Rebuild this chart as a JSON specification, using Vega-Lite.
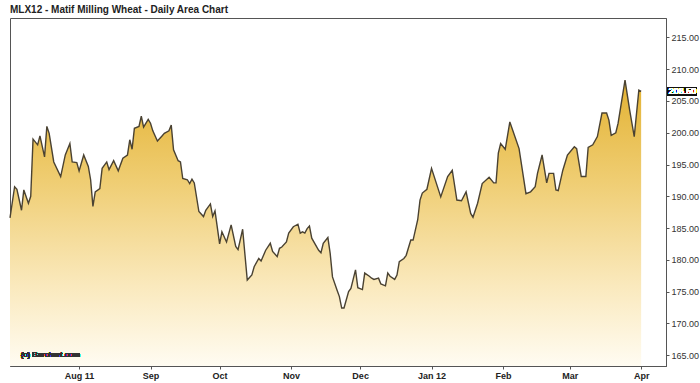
{
  "$schema": "https://vega.github.io/schema/vega-lite/v6.json",
  "width": 656,
  "height": 348,
  "autosize": {"type": "none"},
  "padding": {"left": 10, "top": 18, "right": 34, "bottom": 17},
  "background": "white",
  "title": {"text": "MLX12 - Matif Milling Wheat - Daily Area Chart", "anchor": "start", "frame": "group", "font": "Liberation Sans", "fontSize": 10, "fontWeight": "bold", "color": "#222222", "offset": 3},
  "config": {"view": {"stroke": "#555555", "strokeWidth": 1}, "font": "Liberation Sans"},
  "resolve": {"axis": {"x": "independent", "y": "independent"}},
  "data": {"values": [
    {"date": "2011-07-02", "price": 186.6},
    {"date": "2011-07-04", "price": 191.5},
    {"date": "2011-07-05", "price": 191.1},
    {"date": "2011-07-07", "price": 187.8},
    {"date": "2011-07-08", "price": 191.0},
    {"date": "2011-07-10", "price": 188.9},
    {"date": "2011-07-11", "price": 190.0},
    {"date": "2011-07-12", "price": 199.0},
    {"date": "2011-07-14", "price": 198.1},
    {"date": "2011-07-15", "price": 199.5},
    {"date": "2011-07-17", "price": 196.2},
    {"date": "2011-07-18", "price": 201.0},
    {"date": "2011-07-19", "price": 199.9},
    {"date": "2011-07-21", "price": 195.4},
    {"date": "2011-07-24", "price": 193.1},
    {"date": "2011-07-26", "price": 196.5},
    {"date": "2011-07-28", "price": 198.3},
    {"date": "2011-07-29", "price": 195.4},
    {"date": "2011-07-31", "price": 195.3},
    {"date": "2011-08-01", "price": 194.0},
    {"date": "2011-08-03", "price": 196.5},
    {"date": "2011-08-05", "price": 194.7},
    {"date": "2011-08-06", "price": 192.6},
    {"date": "2011-08-07", "price": 188.4},
    {"date": "2011-08-08", "price": 190.7},
    {"date": "2011-08-10", "price": 191.2},
    {"date": "2011-08-11", "price": 194.4},
    {"date": "2011-08-13", "price": 195.4},
    {"date": "2011-08-14", "price": 194.2},
    {"date": "2011-08-15", "price": 194.9},
    {"date": "2011-08-16", "price": 195.6},
    {"date": "2011-08-18", "price": 194.0},
    {"date": "2011-08-20", "price": 196.0},
    {"date": "2011-08-22", "price": 196.5},
    {"date": "2011-08-23", "price": 198.9},
    {"date": "2011-08-24", "price": 197.4},
    {"date": "2011-08-25", "price": 200.7},
    {"date": "2011-08-27", "price": 201.0},
    {"date": "2011-08-28", "price": 202.6},
    {"date": "2011-08-29", "price": 200.9},
    {"date": "2011-08-31", "price": 202.1},
    {"date": "2011-09-01", "price": 201.5},
    {"date": "2011-09-02", "price": 200.3},
    {"date": "2011-09-04", "price": 198.7},
    {"date": "2011-09-06", "price": 199.5},
    {"date": "2011-09-07", "price": 199.9},
    {"date": "2011-09-09", "price": 200.3},
    {"date": "2011-09-10", "price": 201.2},
    {"date": "2011-09-11", "price": 197.3},
    {"date": "2011-09-13", "price": 195.6},
    {"date": "2011-09-14", "price": 195.4},
    {"date": "2011-09-15", "price": 192.8},
    {"date": "2011-09-17", "price": 192.6},
    {"date": "2011-09-18", "price": 192.0},
    {"date": "2011-09-19", "price": 192.7},
    {"date": "2011-09-20", "price": 192.1},
    {"date": "2011-09-22", "price": 187.6},
    {"date": "2011-09-24", "price": 186.8},
    {"date": "2011-09-25", "price": 187.8},
    {"date": "2011-09-27", "price": 188.8},
    {"date": "2011-09-28", "price": 186.8},
    {"date": "2011-09-29", "price": 187.7},
    {"date": "2011-10-01", "price": 182.5},
    {"date": "2011-10-02", "price": 184.4},
    {"date": "2011-10-04", "price": 182.8},
    {"date": "2011-10-06", "price": 185.5},
    {"date": "2011-10-08", "price": 182.1},
    {"date": "2011-10-09", "price": 181.6},
    {"date": "2011-10-11", "price": 184.8},
    {"date": "2011-10-13", "price": 176.8},
    {"date": "2011-10-15", "price": 177.6},
    {"date": "2011-10-16", "price": 178.9},
    {"date": "2011-10-18", "price": 180.2},
    {"date": "2011-10-19", "price": 179.8},
    {"date": "2011-10-21", "price": 181.5},
    {"date": "2011-10-23", "price": 182.6},
    {"date": "2011-10-24", "price": 181.3},
    {"date": "2011-10-26", "price": 180.5},
    {"date": "2011-10-27", "price": 181.8},
    {"date": "2011-10-28", "price": 182.0},
    {"date": "2011-10-30", "price": 182.8},
    {"date": "2011-10-31", "price": 184.2},
    {"date": "2011-11-02", "price": 185.2},
    {"date": "2011-11-04", "price": 185.6},
    {"date": "2011-11-05", "price": 184.2},
    {"date": "2011-11-06", "price": 184.4},
    {"date": "2011-11-07", "price": 184.2},
    {"date": "2011-11-08", "price": 184.9},
    {"date": "2011-11-09", "price": 185.3},
    {"date": "2011-11-10", "price": 183.4},
    {"date": "2011-11-13", "price": 181.5},
    {"date": "2011-11-14", "price": 181.1},
    {"date": "2011-11-15", "price": 182.6},
    {"date": "2011-11-17", "price": 183.5},
    {"date": "2011-11-18", "price": 181.0},
    {"date": "2011-11-19", "price": 177.3},
    {"date": "2011-11-21", "price": 175.2},
    {"date": "2011-11-22", "price": 174.2},
    {"date": "2011-11-23", "price": 172.4},
    {"date": "2011-11-24", "price": 172.4},
    {"date": "2011-11-26", "price": 175.0},
    {"date": "2011-11-27", "price": 175.5},
    {"date": "2011-11-29", "price": 178.4},
    {"date": "2011-11-30", "price": 175.6},
    {"date": "2011-12-02", "price": 175.3},
    {"date": "2011-12-03", "price": 177.9},
    {"date": "2011-12-05", "price": 177.4},
    {"date": "2011-12-06", "price": 177.1},
    {"date": "2011-12-07", "price": 176.9},
    {"date": "2011-12-09", "price": 177.1},
    {"date": "2011-12-10", "price": 176.2},
    {"date": "2011-12-12", "price": 175.9},
    {"date": "2011-12-13", "price": 177.9},
    {"date": "2011-12-14", "price": 177.4},
    {"date": "2011-12-16", "price": 176.9},
    {"date": "2011-12-17", "price": 177.6},
    {"date": "2011-12-18", "price": 179.7},
    {"date": "2011-12-20", "price": 180.2},
    {"date": "2011-12-21", "price": 180.7},
    {"date": "2011-12-23", "price": 183.1},
    {"date": "2011-12-24", "price": 183.1},
    {"date": "2011-12-26", "price": 186.3},
    {"date": "2011-12-27", "price": 189.4},
    {"date": "2011-12-28", "price": 190.5},
    {"date": "2011-12-30", "price": 191.1},
    {"date": "2012-01-01", "price": 194.4},
    {"date": "2012-01-05", "price": 189.9},
    {"date": "2012-01-08", "price": 193.1},
    {"date": "2012-01-10", "price": 194.1},
    {"date": "2012-01-12", "price": 189.4},
    {"date": "2012-01-14", "price": 189.3},
    {"date": "2012-01-16", "price": 190.7},
    {"date": "2012-01-18", "price": 187.3},
    {"date": "2012-01-19", "price": 186.7},
    {"date": "2012-01-21", "price": 188.9},
    {"date": "2012-01-23", "price": 192.0},
    {"date": "2012-01-26", "price": 193.0},
    {"date": "2012-01-28", "price": 192.1},
    {"date": "2012-01-29", "price": 192.1},
    {"date": "2012-01-30", "price": 196.8},
    {"date": "2012-01-31", "price": 198.3},
    {"date": "2012-02-02", "price": 197.4},
    {"date": "2012-02-04", "price": 201.7},
    {"date": "2012-02-08", "price": 197.5},
    {"date": "2012-02-11", "price": 190.4},
    {"date": "2012-02-13", "price": 190.7},
    {"date": "2012-02-15", "price": 191.5},
    {"date": "2012-02-16", "price": 193.6},
    {"date": "2012-02-18", "price": 196.5},
    {"date": "2012-02-20", "price": 192.1},
    {"date": "2012-02-21", "price": 193.6},
    {"date": "2012-02-23", "price": 193.6},
    {"date": "2012-02-24", "price": 191.0},
    {"date": "2012-02-25", "price": 190.9},
    {"date": "2012-02-27", "price": 194.1},
    {"date": "2012-02-29", "price": 196.5},
    {"date": "2012-03-03", "price": 197.8},
    {"date": "2012-03-04", "price": 197.5},
    {"date": "2012-03-06", "price": 193.1},
    {"date": "2012-03-08", "price": 193.1},
    {"date": "2012-03-09", "price": 197.7},
    {"date": "2012-03-11", "price": 198.1},
    {"date": "2012-03-13", "price": 199.4},
    {"date": "2012-03-15", "price": 203.1},
    {"date": "2012-03-17", "price": 203.1},
    {"date": "2012-03-18", "price": 202.0},
    {"date": "2012-03-19", "price": 199.6},
    {"date": "2012-03-21", "price": 200.0},
    {"date": "2012-03-22", "price": 201.5},
    {"date": "2012-03-25", "price": 208.3},
    {"date": "2012-03-27", "price": 203.6},
    {"date": "2012-03-29", "price": 199.4},
    {"date": "2012-03-31", "price": 206.7},
    {"date": "2012-04-01", "price": 206.5}
  ]},
  "encoding": {
    "x": {
      "field": "date", "type": "temporal",
      "scale": {"type": "utc", "domain": [{"year": 2011, "month": 7, "date": 2, "utc": true}, {"year": 2012, "month": 4, "date": 11, "hours": 19, "utc": true}]},
      "axis": null
    },
    "y": {
      "field": "price", "type": "quantitative",
      "scale": {"domain": [163.27, 218.07], "zero": false, "nice": false},
      "axis": null
    }
  },
  "layer": [
    {
      "mark": {
        "type": "area",
        "interpolate": "linear",
        "clip": true,
        "fill": {"gradient": "linear", "x1": 0, "y1": 0, "x2": 0, "y2": 1, "stops": [
          {"offset": 0, "color": "#e3b232"},
          {"offset": 0.35, "color": "#efcd72"},
          {"offset": 0.72, "color": "#fae9bd"},
          {"offset": 1, "color": "#fffcf2"}
        ]},
        "fillOpacity": 1,
        "strokeWidth": 0
      },
      "encoding": {
        "x": {
          "field": "date", "type": "temporal",
          "scale": {"type": "utc", "domain": [{"year": 2011, "month": 7, "date": 2, "utc": true}, {"year": 2012, "month": 4, "date": 11, "hours": 19, "utc": true}]},
          "axis": {
            "title": null, "grid": false, "tickCount": "month",
            "labelExpr": "utcFormat(datum.value, (utcmonth(datum.value)==0 || utcmonth(datum.value)==7) ? '%b %y' : '%b')",
            "labelFont": "Liberation Sans", "labelFontSize": 9, "labelFontWeight": "bold", "labelColor": "#222222",
            "domainColor": "#555555", "tickColor": "#555555", "tickSize": 3, "labelPadding": 2, "labelFlush": false, "labelOverlap": false
          }
        },
        "y": {
          "field": "price", "type": "quantitative",
          "scale": {"domain": [163.27, 218.07], "zero": false, "nice": false},
          "axis": {
            "orient": "right", "title": null, "grid": false, "format": ".2f",
            "values": [165, 170, 175, 180, 185, 190, 195, 200, 205, 210, 215],
            "labelFont": "Liberation Sans", "labelFontSize": 9, "labelColor": "#333333", "labelOverlap": false, "labelBound": false,
            "domainColor": "#555555", "tickColor": "#555555", "tickSize": 3, "labelPadding": 2
          }
        },
        "y2": {"datum": 163.27}
      }
    },
    {
      "mark": {"type": "line", "interpolate": "linear", "color": "#4a4232", "strokeWidth": 1.4}
    },
    {
      "mark": {"type": "text", "align": "left", "baseline": "middle", "font": "Liberation Sans", "fontSize": 8, "fontWeight": "normal", "fill": "#333333", "stroke": null, "strokeWidth": 0},
      "encoding": {
        "x": {"datum": {"year": 2011, "month": 7, "date": 6, "hours": 16, "utc": true}, "type": "temporal", "axis": null},
        "y": {"datum": 165.0, "type": "quantitative", "axis": null},
        "text": {"value": "(c) Barchart.com"}
      }
    },
    {
      "mark": {"type": "rect", "fill": "#111111", "stroke": null},
      "encoding": {
        "x": {"datum": {"year": 2012, "month": 4, "date": 12, "hours": 15, "utc": true}, "type": "temporal", "axis": null},
        "x2": {"datum": {"year": 2012, "month": 4, "date": 25, "hours": 5, "utc": true}},
        "y": {"datum": 207.2, "type": "quantitative", "axis": null},
        "y2": {"datum": 205.8}
      }
    },
    {
      "mark": {"type": "text", "align": "center", "baseline": "middle", "font": "Liberation Sans", "fontSize": 9, "fill": "#ffffff", "stroke": null, "strokeWidth": 0},
      "encoding": {
        "x": {"datum": {"year": 2012, "month": 4, "date": 18, "hours": 22, "utc": true}, "type": "temporal", "axis": null},
        "y": {"datum": 206.5, "type": "quantitative", "axis": null},
        "text": {"value": "206.50"}
      }
    }
  ]
}
